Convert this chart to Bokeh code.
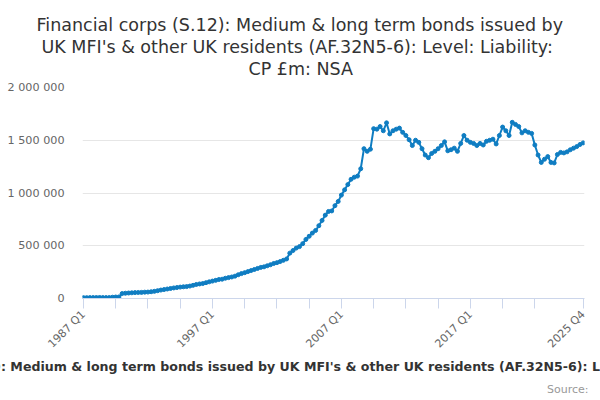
import math
from bokeh.plotting import figure
from bokeh.models import Range1d, FixedTicker, Title, CustomJSTickFormatter
from bokeh.embed import file_html
from bokeh.resources import INLINE

# ---- data ----
start_year = 1987
quarters = [f"{start_year + i // 4} Q{i % 4 + 1}" for i in range(156)]
values = [
    8000, 8000, 8500, 9000, 9000, 9500, 9000, 8500, 9000, 12000,
    14000, 15000, 47000, 50000, 52000, 54000, 56000, 57000, 58000, 60000,
    61000, 64000, 68000, 74000, 80000, 85000, 90000, 95000, 100000, 104000,
    108000, 111000, 113000, 118000, 125000, 133000, 138000, 142000, 150000, 158000,
    165000, 172000, 180000, 183000, 192000, 198000, 204000, 212000, 225000, 236000,
    245000, 255000, 265000, 275000, 285000, 295000, 300000, 310000, 320000, 332000,
    340000, 350000, 362000, 375000, 430000, 455000, 478000, 492000, 520000, 560000,
    590000, 620000, 645000, 690000, 740000, 790000, 825000, 830000, 880000, 920000,
    980000, 1030000, 1080000, 1130000, 1150000, 1160000, 1230000, 1420000, 1395000, 1415000,
    1610000, 1605000, 1630000, 1590000, 1665000, 1560000, 1590000, 1605000, 1615000, 1575000,
    1545000, 1505000, 1450000, 1500000, 1480000, 1420000, 1360000, 1335000, 1375000, 1395000,
    1420000, 1450000, 1485000, 1400000, 1410000, 1425000, 1395000, 1470000, 1545000, 1500000,
    1480000, 1470000, 1450000, 1470000, 1455000, 1490000, 1500000, 1510000, 1465000, 1545000,
    1625000, 1590000, 1545000, 1670000, 1650000, 1630000, 1570000, 1590000, 1575000, 1565000,
    1455000, 1360000, 1290000, 1320000, 1345000, 1290000, 1285000, 1365000, 1385000, 1380000,
    1390000, 1410000, 1425000, 1440000, 1460000, 1475000,
]
y_ticks = [0, 500000, 1000000, 1500000, 2000000]
x_tick_idx = [0, 10, 20, 30, 40, 50, 60, 70, 80, 90, 100, 110, 120, 130, 140, 155]
x_label_idx = [0, 40, 80, 120, 155]

title_lines = [
    "Financial corps (S.12): Medium & long term bonds issued by",
    "UK MFI's & other UK residents (AF.32N5-6): Level: Liability:",
    "CP £m: NSA",
]
legend_text = ("Financial corps (S.12): Medium & long term bonds issued by UK MFI's & "
               "other UK residents (AF.32N5-6): Level: Liability: CP £m: NSA")
source_text = "Source:"

xs = list(range(len(values)))

W, H = 600, 400
p = figure(width=W, height=H, output_backend="svg", toolbar_location=None,
           x_range=Range1d(-0.3, 155.4), y_range=Range1d(0, 2000000),
           min_border_left=82, min_border_right=16, min_border_top=87, min_border_bottom=102)
p.outline_line_color = None
p.background_fill_color = "white"
p.border_fill_color = "white"

color = "#0f7dc2"
p.line(xs, values, line_color=color, line_width=2)
p.scatter(xs, values, size=4, fill_color=color, line_color=color)

# y axis
p.yaxis.ticker = FixedTicker(ticks=y_ticks)
p.yaxis.formatter = CustomJSTickFormatter(code="""
    return Math.round(tick).toString().replace(/\\B(?=(\\d{3})+(?!\\d))/g, ' ');
""")
p.yaxis.axis_line_color = None
p.yaxis.major_tick_line_color = None
p.yaxis.minor_tick_line_color = None
p.yaxis.major_label_text_color = "#666666"
p.yaxis.major_label_text_font = "DejaVu Sans"
p.yaxis.major_label_text_font_size = "11.2px"
p.yaxis.major_label_standoff = 12
p.ygrid.grid_line_color = "#e6e6e6"
p.ygrid.ticker = FixedTicker(ticks=y_ticks)

# x axis
p.xaxis.ticker = FixedTicker(ticks=x_tick_idx)
overrides = {i: (quarters[i] if i in x_label_idx else "") for i in x_tick_idx}
p.xaxis.major_label_overrides = overrides
p.xaxis.major_label_orientation = math.pi / 4
p.xaxis.axis_line_color = "#ccd6eb"
p.xaxis.major_tick_line_color = "#ccd6eb"
p.xaxis.major_tick_out = 10
p.xaxis.major_tick_in = 0
p.xaxis.minor_tick_line_color = None
p.xaxis.major_label_text_color = "#666666"
p.xaxis.major_label_text_font = "DejaVu Sans"
p.xaxis.major_label_text_font_size = "11px"
p.xaxis.major_label_standoff = 4
p.xgrid.grid_line_color = None

# title lines (left-aligned with offsets so that each line is centred on the canvas)
title_offsets = [-46, -41, 166]
title_pad_bottom = [0, 0, 9]
for txt, off, pb in reversed(list(zip(title_lines, title_offsets, title_pad_bottom))):
    p.add_layout(Title(text=txt, align="left", text_font="DejaVu Sans",
                       text_font_size="17.5px", text_font_style="normal",
                       text_line_height=0.85, text_color="#333333",
                       standoff=0, offset=off,
                       padding=dict(left=0, right=0, top=0, bottom=pb)), "above")

p.add_layout(Title(text=legend_text, align="left", text_font="DejaVu Sans",
                   text_font_size="12.6px", text_font_style="bold",
                   text_color="#333333", standoff=0, offset=-236,
                   vertical_align="top"), "below")
p.add_layout(Title(text=source_text, align="right", text_font="DejaVu Sans",
                   text_font_size="11px", text_font_style="normal",
                   text_color="#999999", standoff=10, offset=-4), "below")

open("out.html", "w").write(file_html(p, INLINE))
